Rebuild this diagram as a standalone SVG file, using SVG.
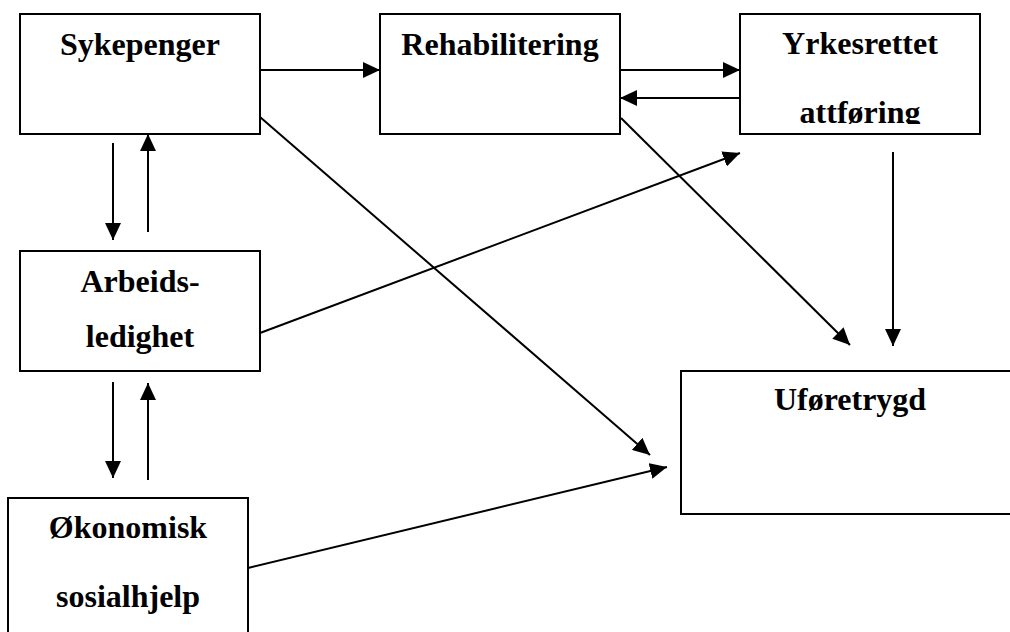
<svg xmlns="http://www.w3.org/2000/svg" width="1010" height="632" viewBox="0 0 1010 632">
<style>
.box{fill:#fff;stroke:#000;stroke-width:2}
.lbl{font-family:"Liberation Serif","Times New Roman",serif;font-weight:bold;font-size:32px;fill:#000;text-anchor:middle}
.c{stroke:#000;stroke-width:2;fill:none;marker-end:url(#ah)}
</style>
<defs>
<marker id="ah" markerUnits="userSpaceOnUse" markerWidth="18" markerHeight="16" viewBox="0 0 18 16" refX="17" refY="8" orient="auto">
<path d="M0,0 L17,8 L0,16 Z" fill="#000"/>
</marker>
<clipPath id="clipY"><rect x="740" y="14" width="240" height="110"/></clipPath>
</defs>
<rect width="1010" height="632" fill="#fff"/>
<g id="sykepenger"><rect class="box" x="20" y="14" width="240" height="120"/><text class="lbl" x="140" y="55">Sykepenger</text></g>
<g id="rehabilitering"><rect class="box" x="380" y="14" width="240" height="120"/><text class="lbl" x="500" y="55">Rehabilitering</text></g>
<g id="yrkesrettet"><rect class="box" x="740" y="14" width="240" height="120"/><g clip-path="url(#clipY)"><text class="lbl" x="860" y="54">Yrkesrettet</text><text class="lbl" x="860" y="123">attføring</text></g></g>
<g id="arbeidsledighet"><rect class="box" x="20" y="251" width="240" height="120"/><text class="lbl" x="140" y="292">Arbeids-</text><text class="lbl" x="140" y="347">ledighet</text></g>
<g id="okonomisk"><rect class="box" x="8" y="498" width="240" height="150"/><text class="lbl" x="128" y="538">Økonomisk</text><text class="lbl" x="128" y="607">sosialhjelp</text></g>
<g id="uforetrygd"><path class="box" d="M1012,371 L681,371 L681,514 L1012,514"/><text class="lbl" x="850" y="410">Uføretrygd</text></g>
<g id="connectors">
<line class="c" x1="260" y1="70" x2="380" y2="70"/>
<line class="c" x1="620" y1="70" x2="740" y2="70"/>
<line class="c" x1="740" y1="98" x2="620" y2="98"/>
<line class="c" x1="113" y1="143" x2="113" y2="240"/>
<line class="c" x1="148" y1="232" x2="148" y2="134"/>
<line class="c" x1="113" y1="382" x2="113" y2="478"/>
<line class="c" x1="148" y1="480" x2="148" y2="383"/>
<line class="c" x1="260" y1="117" x2="650" y2="455"/>
<line class="c" x1="621" y1="118" x2="850" y2="345"/>
<line class="c" x1="893" y1="152" x2="893" y2="346"/>
<line class="c" x1="260" y1="333" x2="740" y2="153"/>
<line class="c" x1="248" y1="568" x2="667" y2="467"/>
</g>
</svg>
